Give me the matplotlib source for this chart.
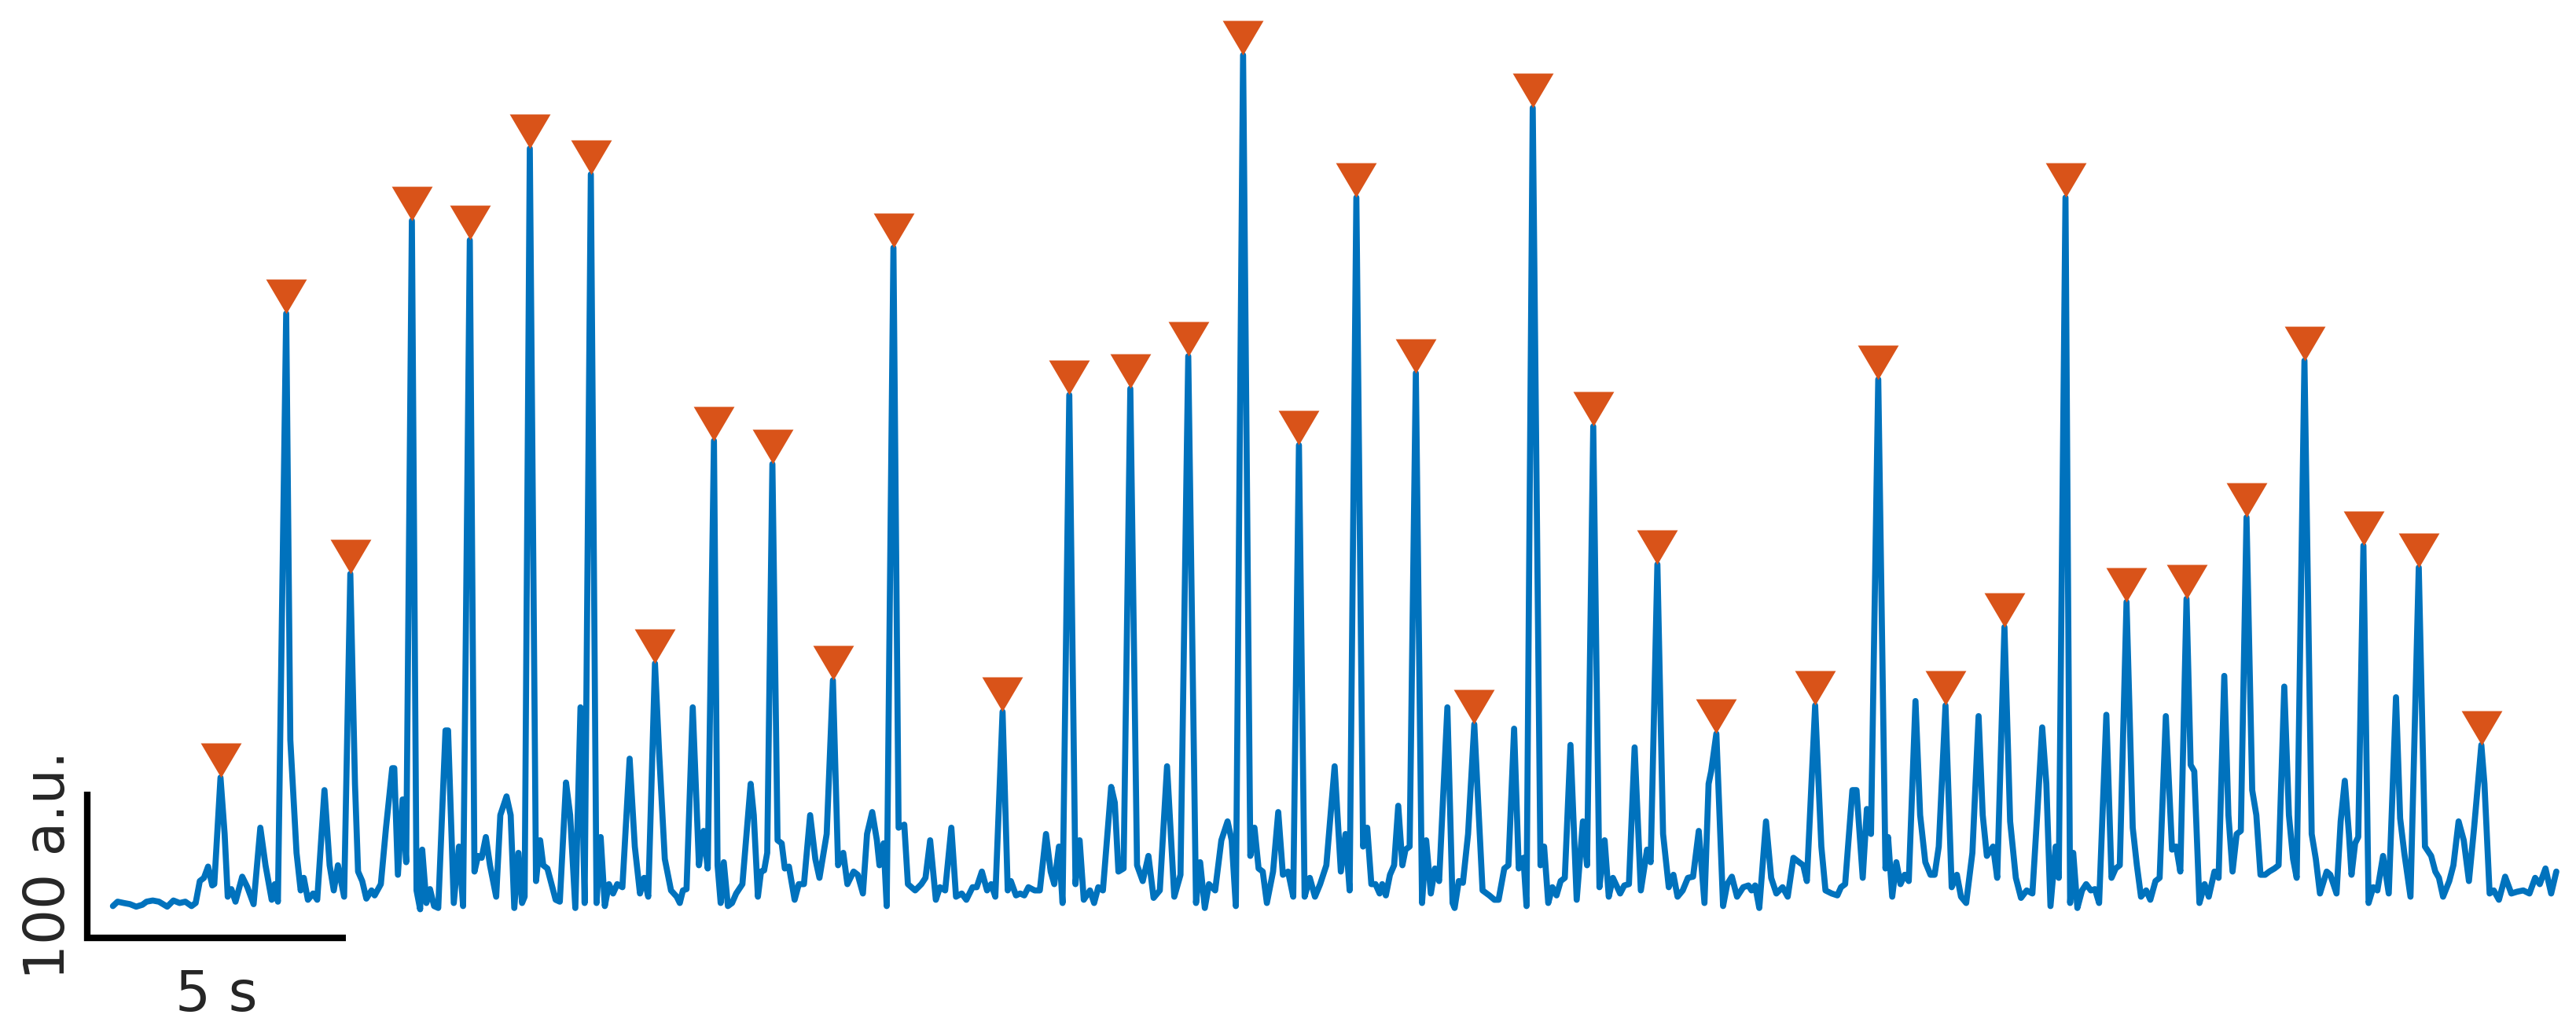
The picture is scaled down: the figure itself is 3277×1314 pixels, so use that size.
import numpy as np
import matplotlib.pyplot as plt

# trace (seconds, a.u.)
t_sec = [0.01, 0.10, 0.22, 0.34, 0.46, 0.58, 0.66, 0.78, 0.90, 1.06, 1.18, 1.30, 1.41, 1.53, 1.61, 1.69, 1.77, 1.85,
         1.93, 1.97, 2.09, 2.17, 2.23, 2.30, 2.38, 2.51, 2.61, 2.73, 2.86, 2.96, 3.08, 3.14, 3.20, 3.36, 3.44, 3.56,
         3.64, 3.70, 3.78, 3.88, 3.96, 4.10, 4.20, 4.28, 4.36, 4.48, 4.60, 4.69, 4.75, 4.83, 4.91, 5.01, 5.07, 5.19,
         5.29, 5.41, 5.45, 5.52, 5.61, 5.68, 5.79, 5.88, 5.95, 5.99, 6.07, 6.14, 6.22, 6.30, 6.44, 6.49, 6.60, 6.70,
         6.78, 6.91, 7.00, 7.07, 7.14, 7.22, 7.30, 7.42, 7.50, 7.62, 7.70, 7.77, 7.85, 7.92, 7.97, 8.07, 8.19, 8.27,
         8.33, 8.41, 8.57, 8.65, 8.77, 8.85, 8.95, 9.05, 9.13, 9.25, 9.36, 9.44, 9.52, 9.60, 9.68, 9.76, 9.86, 10.00,
         10.10, 10.20, 10.28, 10.36, 10.49, 10.57, 10.68, 10.80, 10.91, 10.97, 11.03, 11.10, 11.22, 11.34, 11.43,
         11.51, 11.63,
         11.70, 11.76, 11.82, 11.90, 11.98, 12.06, 12.18, 12.26, 12.34, 12.40, 12.48, 12.54, 12.60, 12.66, 12.76,
         12.86, 12.94, 13.00, 13.08, 13.19, 13.27, 13.37, 13.49, 13.59, 13.67, 13.75, 13.81, 13.93, 14.03, 14.13,
         14.21, 14.33, 14.41, 14.51, 14.59, 14.69, 14.78, 14.83, 14.91, 14.97, 15.10, 15.20, 15.31, 15.38, 15.52,
         15.64, 15.72, 15.81, 15.92, 16.00, 16.10, 16.22, 16.31, 16.42, 16.51, 16.63, 16.71, 16.81, 16.91, 16.99,
         17.07, 17.21, 17.31, 17.37, 17.47, 17.55, 17.63, 17.71, 17.83, 17.93, 18.05, 18.14, 18.21, 18.30, 18.37,
         18.50, 18.62, 18.70, 18.78, 18.90, 18.98, 19.06, 19.15, 19.31, 19.38, 19.45, 19.55, 19.68, 19.81, 19.92,
         20.03, 20.13, 20.25, 20.39, 20.53, 20.65, 20.80, 20.95, 21.03, 21.12, 21.20, 21.32, 21.44, 21.56, 21.64,
         21.72, 21.86, 22.00, 22.08, 22.16, 22.24, 22.32, 22.44, 22.54, 22.63, 22.73, 22.83, 22.94, 23.05, 23.15,
         23.25, 23.35, 23.47, 23.63, 23.75, 23.84, 23.92, 24.05,
         24.18, 24.26, 24.34, 24.42, 24.50, 24.55, 24.62, 24.70, 24.78, 24.86, 24.94, 25.00, 25.08, 25.20, 25.32,
         25.40, 25.49, 25.57, 25.65, 25.81, 25.91, 25.95, 26.03, 26.11, 26.21, 26.33, 26.49, 26.62, 26.72, 26.80,
         26.91, 26.99, 27.10, 27.19, 27.28, 27.34, 27.46, 27.61, 27.68, 27.76, 27.84, 27.92, 28.00, 28.08, 28.19,
         28.31, 28.43, 28.51, 28.63, 28.75, 28.85, 28.93, 29.01, 29.15, 29.23, 29.32, 29.43, 29.55, 29.67, 29.74,
         29.87, 29.98, 30.09, 30.18, 30.26, 30.36, 30.46, 30.56, 30.67, 30.78, 30.86, 30.91, 31.01, 31.14, 31.22,
         31.31, 31.41, 31.53, 31.63, 31.69, 31.76, 31.84, 31.97, 32.07, 32.17, 32.29, 32.39, 32.50, 32.61, 32.69,
         32.76, 32.92, 33.04, 33.12, 33.24, 33.35, 33.42, 33.50, 33.64, 33.72, 33.84, 33.92, 34.00, 34.14, 34.28,
         34.33, 34.41, 34.49, 34.57, 34.65, 34.73, 34.86, 34.95, 35.05, 35.15, 35.23, 35.31, 35.44,
         35.56, 35.66, 35.74, 35.84, 35.96, 36.08, 36.16, 36.24, 36.36, 36.44, 36.58, 36.69, 36.80, 36.90, 37.01,
         37.12, 37.22, 37.31, 37.39, 37.47, 37.57, 37.63, 37.76, 37.85, 37.91, 37.99, 38.08, 38.16, 38.25, 38.33,
         38.41, 38.55, 38.65, 38.73, 38.81, 38.94, 39.06, 39.14, 39.22, 39.32, 39.40, 39.50, 39.58, 39.70, 39.82,
         39.90, 39.98, 40.10, 40.18, 40.25, 40.35, 40.45, 40.53, 40.64, 40.72, 40.83, 40.91, 40.99, 41.07, 41.15,
         41.26, 41.37, 41.45, 41.53, 41.62, 41.70, 41.80, 41.88, 41.99, 42.08, 42.16, 42.23, 42.38, 42.52, 42.60,
         42.68, 42.81, 42.88, 43.00, 43.08, 43.16, 43.24, 43.29, 43.36, 43.42, 43.52, 43.62, 43.71, 43.79, 43.90,
         44.01, 44.15, 44.23, 44.31, 44.43, 44.59, 44.71, 44.83, 44.91, 44.98, 45.06, 45.18, 45.26, 45.36, 45.46,
         45.56, 45.66, 45.80, 45.86, 45.96, 46.04, 46.14, 46.26, 46.38, 46.49, 46.61, 46.73, 46.84, 46.93, 47.04,
         47.15, 47.25]

signal = [-0.8, 2.2, 1.3, 0.5, -1.2, 0.1, 2.2, 3.0, 2.2, -1.2, 3.0, 1.3, 2.2, -0.8, 1.3, 16.3, 18.5, 26.2,
          13.3, 14.2, 87.1, 48.5, 5.6, 10.8, 2.2, 19.3, 12.1, 0.5, 52.8, 27.1, 3.5, 14.2, 2.2, 404.4, 112.8, 35.6,
          9.9, 18.5, 3.5, 7.8, 3.5, 78.5, 27.1, 9.9, 27.1, 5.6, 226.4, 82.8, 22.8, 16.3, 4.3, 9.9, 6.5, 14.2,
          52.8, 93.5, 93.5, 20.6, 72.1, 29.2, 467.9, 9.9, -3.0, 37.8, 1.3, 10.8, -0.8, -2.1, 119.3, 119.3, 1.3, 39.9,
          -0.8, 454.6, 22.8, 33.5, 32.2, 46.4, 27.1, 5.6, 61.4, 74.2, 61.4, -2.1, 35.6, 1.3, 5.6, 517.2, 16.3, 44.2,
          27.1, 24.9, 3.5, 2.2, 83.7, 61.4, -2.1, 135.1, 1.3, 499.6, 1.3, 46.4, -0.8, 14.2, 7.8, 14.2, 12.1, 100.0,
          39.9, 7.8, 18.5, 5.6, 165.1, 104.2, 31.4, 9.9, 5.6, 1.3, 9.9, 10.8, 135.1, 27.1, 50.6,
          24.9, 317.4,
          27.1, 1.3, 29.2, -0.8, 1.3, 7.8, 14.2, 48.5, 82.8, 61.4, 5.6, 22.8, 23.6, 35.6, 301.5,
          44.2, 42.1, 24.9, 26.2, 3.5, 14.2, 14.2, 61.4, 31.4, 18.5, 35.6, 48.5, 153.6, 27.1, 35.6,
          14.2, 22.8, 20.6, 7.8, 48.5, 63.5, 44.2, 27.1, 42.1, -0.8, 449.4, 52.8, 54.9, 14.2, 9.9,
          14.2, 18.5, 44.2, 3.5, 12.1, 9.9, 52.8, 5.6, 7.8, 3.5, 12.1, 12.1, 22.8, 9.9, 14.2,
          5.6, 132.1, 9.9, 16.3, 6.5, 7.8, 6.5, 12.1, 9.9, 9.9, 48.5, 22.8, 14.2, 39.9, 1.3,
          348.7, 14.2, 44.2, 3.5, 9.9, 1.3, 12.1, 9.9, 80.7, 69.9, 22.8, 24.9, 353.0, 27.1, 16.3,
          33.5, 4.8, 9.9, 94.8, 5.6, 20.6, 375.2, 1.3, 29.2, -2.1, 14.2, 9.9, 44.2, 57.1, 44.2,
          -0.8, 581.1, 33.5, 52.8, 24.9, 22.8, 1.3, 22.8, 63.5, 20.6, 22.8, 5.6, 314.4, 5.6, 18.5,
          5.6, 14.2, 27.1, 94.8, 22.8, 48.5, 9.9, 483.7,
          39.9, 52.8, 14.2, 14.2, 7.8, 14.2, 6.5, 20.6, 27.1, 67.8, 27.1, 37.8, 39.9, 363.7, 1.3,
          44.2, 7.8, 24.9, 16.3, 135.1, 1.3, -2.1, 16.3, 15.1, 48.5, 123.5, 9.9, 6.5, 3.5, 3.5,
          24.9, 27.1, 120.5, 24.9, 32.2, -0.8, 545.0, 27.1, 39.9, 1.3, 12.1, 6.5, 16.3, 18.5, 109.4,
          3.5, 57.1, 27.1, 327.2, 12.1, 44.2, 5.6, 18.5, 7.8, 13.3, 14.2, 107.7, 9.9, 37.8, 29.2,
          232.9, 48.5, 12.1, 20.6, 5.6, 9.9, 18.5, 19.3, 50.6, 1.3, 82.8, 91.4, 117.1, -0.8, 14.2,
          19.3, 5.6, 12.1, 13.3, 9.9, 13.3, -2.1, 57.1, 18.5, 7.8, 12.1, 5.6, 32.2, 29.2, 27.1,
          16.3, 136.4, 39.9, 9.9, 7.8, 6.5, 12.1, 14.2, 78.5, 78.5, 18.5, 65.6, 48.5, 359.4, 24.9,
          46.4, 5.6, 29.2, 14.2, 20.6, 16.3, 139.4, 61.4, 29.2, 20.6, 20.6, 39.9, 136.4,
          12.1, 20.6, 5.6, 1.3, 35.6, 129.1, 61.4, 33.5, 39.9, 18.5, 190.0, 57.1, 18.5, 4.8, 9.9,
          7.8, 65.6, 121.4, 82.8, -0.8, 39.9, 18.5, 483.7, 1.3, 35.6, -2.1, 9.9, 14.2, 9.9, 10.8,
          1.3, 130.0, 18.5, 24.9, 27.1, 207.2, 52.8, 27.1, 5.6, 9.9, 3.5, 16.3, 18.5, 129.1, 37.8,
          39.9, 22.8, 209.3, 95.7, 91.4, 1.3, 14.2, 5.6, 22.8, 18.5, 156.6, 61.4, 22.8, 48.5, 50.6,
          265.0, 78.5, 61.4, 20.6, 20.6, 22.8, 24.9, 27.1, 149.3, 61.4, 31.4, 18.5, 372.2, 48.5, 31.4,
          7.8, 22.8, 20.6, 7.8, 57.1, 84.9, 48.5, 20.6, 42.1, 46.4, 245.7, 1.3, 12.1, 9.9, 33.5,
          7.8, 142.0, 59.2, 35.6, 5.6, 230.7, 39.9, 33.5, 22.8, 18.5, 5.6, 16.3, 27.1, 57.1, 44.2,
          16.3, 52.8, 109.4, 82.8, 7.8, 9.9, 3.5, 19.3, 7.8, 9.0, 9.9, 7.8, 18.5, 14.2, 24.9,
          7.8, 22.8]

# detected events
peak_t = [2.09, 3.36, 4.60, 5.79, 6.91, 8.07, 9.25, 10.49, 11.63, 12.76, 13.93, 15.10, 17.21, 18.50, 19.68,
          20.80, 21.86, 22.94, 24.05, 25.20, 26.33, 27.46, 28.63, 29.87, 31.01, 32.92, 34.14, 35.44, 36.58,
          37.76, 38.94, 40.10, 41.26, 42.38, 43.52, 44.59, 45.80]

t_sec = np.array(t_sec)
signal = np.array(signal)
pk = np.array([np.argmin(np.abs(t_sec - p)) for p in peak_t])

blue = '#0072BD'
orange = '#D95319'
txt = '#262626'

fig = plt.figure(figsize=(3277 / 300, 1314 / 300), dpi=300)
ax = fig.add_axes([0, 0, 1, 1])
ax.set_xlim(-2.173, 47.63)
ax.set_ylim(-87.6, 618.8)
ax.axis('off')

ax.plot(t_sec, signal, color=blue, lw=1.85, solid_joinstyle='round',
        solid_capstyle='round', zorder=2)

# downward triangle with its tip on the peak
tri = [(0, 0), (-0.59, 1), (0.59, 1), (0, 0)]
ax.plot(t_sec[pk], signal[pk], ls='none', marker=tri, ms=21.1,
        mfc=orange, mec='none', zorder=3)

# scale bar
x0, y0 = -0.49, -22.6
ax.plot([x0, x0, x0 + 5], [y0 + 100, y0, y0], color='k', lw=2.0,
        solid_joinstyle='miter', solid_capstyle='butt', zorder=2)
ax.text(x0 + 2.5, -72.6, '5 s', ha='center', va='baseline', fontsize=17, color=txt)
ax.text(-0.927, y0 + 50, '100 a.u.', rotation=90, rotation_mode='anchor',
        ha='center', va='baseline', fontsize=17, color=txt)

fig.savefig('out.png', dpi=300)
